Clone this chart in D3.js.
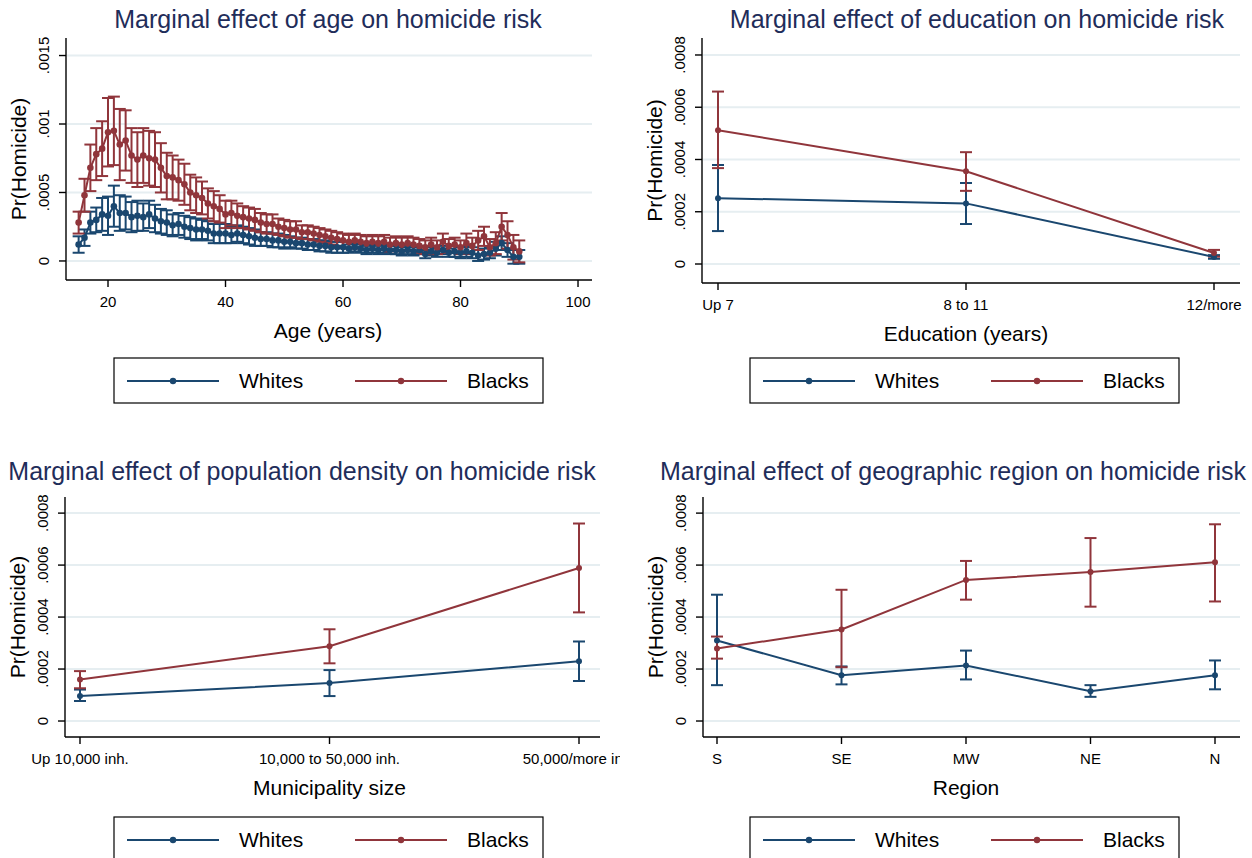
<!DOCTYPE html>
<html lang="en">
<head>
<meta charset="UTF-8">
<title>Marginal effects on homicide risk</title>
<script src="https://d3js.org/d3.v7.min.js"></script>
<style>
  body { margin: 0; background: #fff; }
  svg text { font-family: "Liberation Sans", Arial, sans-serif; fill: #000; }
  .title { fill: #1f2d5a !important; font-size: 25px; text-anchor: middle; }
  .axis-title { font-size: 21px; text-anchor: middle; }
  .tick-label { font-size: 15px; text-anchor: middle; }
  .legend-text { font-size: 21px; }
  .grid { stroke: #e6eef1; stroke-width: 2px; }
  .axis-line { stroke: #000; stroke-width: 1.4px; }
</style>
</head>
<body>
<svg id="chart" width="1252" height="858"></svg>
<script>
// ---- data ----------------------------------------------------------
const seriesNames = ["Whites", "Blacks"];
const colors = ["#1a476f", "#90353b"];

// age panel, ages 15..90
const ages = d3.range(15, 91);
const ageWhites = [
  .00012, .00017, .00028, .00030, .00034, .00033, .00040, .00035, .00035, .00032,
  .00033, .00032, .00034, .00031, .00029, .00028, .00026, .00027, .00025, .00024,
  .00023, .00023, .00022, .00020, .00020, .00020, .00019, .00020, .00019, .00018,
  .00017, .00016, .00016, .00015, .00015, .00014, .00014, .00013, .00013, .00012,
  .00012, .00011, .00011, .00010, .00010, .00010, .00009, .00010, .00009, .00008,
  .00009, .00008, .00009, .00008, .00008, .00007, .00008, .00007, .00008, .00005,
  .00007, .00006, .00008, .00006, .00007, .00006, .00007, .00006, .00004, .00005,
  .00006, .00009, .00013, .00008, .00003, .00003
];
const ageWhitesHalfCI = [
  .00006, .00006, .00008, .00009, .00012, .00014, .00015, .00013, .00012, .00011,
  .00011, .00010, .00010, .00010, .00009, .00009, .00008, .00008, .00008, .00008,
  .00008, .00007, .00007, .00007, .00007, .00007, .00006, .00006, .00006, .00006,
  .00006, .00005, .00005, .00005, .00005, .00005, .00004, .00004, .00004, .00004,
  .00004, .00004, .00004, .00004, .00004, .00004, .00003, .00003, .00003, .00003,
  .00003, .00003, .00003, .00003, .00003, .00003, .00003, .00003, .00003, .00003,
  .00003, .00003, .00003, .00003, .00004, .00004, .00004, .00004, .00004, .00004,
  .00004, .00005, .00005, .00005, .00005, .00005
];
const ageBlacks = [
  .00028, .00048, .00068, .00078, .00082, .00094, .00095, .00085, .00088, .00077,
  .00074, .00077, .00075, .00074, .00068, .00062, .00061, .00059, .00056, .00050,
  .00048, .00046, .00042, .00040, .00038, .00034, .00035, .00033, .00032, .00031,
  .00030, .00028, .00027, .00027, .00025, .00024, .00023, .00023, .00021, .00021,
  .00020, .00019, .00018, .00017, .00016, .00015, .00014, .00015, .00014, .00013,
  .00014, .00013, .00014, .00012, .00013, .00012, .00013, .00012, .00011, .00010,
  .00012, .00010, .00014, .00011, .00012, .00010, .00013, .00011, .00015, .00018,
  .00010, .00013, .00025, .00019, .00010, .00007
];
const ageBlacksHalfCI = [
  .00008, .00012, .00017, .00019, .00020, .00025, .00025, .00026, .00022, .00020,
  .00020, .00020, .00020, .00020, .00018, .00017, .00016, .00015, .00015, .00013,
  .00013, .00012, .00011, .00011, .00010, .00010, .00009, .00009, .00008, .00008,
  .00008, .00007, .00007, .00007, .00006, .00006, .00006, .00006, .00005, .00005,
  .00005, .00005, .00005, .00005, .00005, .00005, .00005, .00005, .00005, .00005,
  .00005, .00005, .00005, .00005, .00005, .00005, .00005, .00005, .00005, .00005,
  .00005, .00005, .00006, .00005, .00005, .00005, .00007, .00006, .00007, .00007,
  .00006, .00008, .00010, .00010, .00009, .00008
];

// education panel
const eduCats = ["Up 7", "8 to 11", "12/more"];
const eduWhites = [.000252, .000232, .000027];
const eduWhitesLo = [.000126, .000153, .000020];
const eduWhitesHi = [.000379, .000310, .000034];
const eduBlacks = [.000512, .000355, .000042];
const eduBlacksLo = [.000367, .000280, .000028];
const eduBlacksHi = [.000660, .000428, .000054];

// population density panel
const popCats = ["Up 10,000 inh.", "10,000 to 50,000 inh.", "50,000/more inh."];
const popWhites = [.000096, .000146, .000230];
const popWhitesLo = [.000077, .000096, .000154];
const popWhitesHi = [.000121, .000196, .000306];
const popBlacks = [.000160, .000288, .000589];
const popBlacksLo = [.000126, .000222, .000418];
const popBlacksHi = [.000192, .000353, .000760];

// region panel
const regCats = ["S", "SE", "MW", "NE", "N"];
const regWhites = [.000310, .000176, .000214, .000115, .000176];
const regWhitesLo = [.000138, .000141, .000160, .000093, .000122];
const regWhitesHi = [.000486, .000210, .000271, .000138, .000233];
const regBlacks = [.000279, .000352, .000543, .000573, .000611];
const regBlacksLo = [.000240, .000207, .000467, .000440, .000460];
const regBlacksHi = [.000325, .000505, .000616, .000704, .000757];

const ageTicks = [20, 40, 60, 80, 100];
const ageYTicks = [0, .0005, .001, .0015];
const probYTicks = [0, .0002, .0004, .0006, .0008];

// ---- helpers -------------------------------------------------------
const svg = d3.select("#chart");
const fmt = v => v === 0 ? "0" : String(+v.toPrecision(4)).replace(/^0/, "");

function zipRows(xs, mid, lo, hi) {
  return xs.map((x, i) => ({ x: x, y: mid[i], lo: lo[i], hi: hi[i] }));
}
function halfRows(xs, mid, half) {
  return xs.map((x, i) => ({ x: x, y: mid[i], lo: mid[i] - half[i], hi: mid[i] + half[i] }));
}

function drawPanel(p) {
  const g = svg.append("g");
  const clipId = "clip" + p.id;
  g.append("clipPath").attr("id", clipId)
    .append("rect").attr("x", p.clip[0]).attr("y", p.clip[1])
    .attr("width", p.clip[2]).attr("height", p.clip[3]);
  const inner = g.append("g").attr("clip-path", `url(#${clipId})`);

  const x = p.xScale;
  const y = d3.scaleLinear().domain(p.yDomain).range([p.bottom, p.top]);
  const xr = x.range();

  // gridlines
  inner.selectAll(".grid").data(p.yTicks).enter().append("line")
    .attr("class", "grid")
    .attr("x1", p.left + 1).attr("x2", p.right)
    .attr("y1", d => y(d)).attr("y2", d => y(d));

  // y axis
  inner.append("line").attr("class", "axis-line")
    .attr("x1", p.left).attr("x2", p.left).attr("y1", p.top).attr("y2", p.bottom);
  p.yTicks.forEach(t => {
    inner.append("line").attr("class", "axis-line")
      .attr("x1", p.left - 7).attr("x2", p.left).attr("y1", y(t)).attr("y2", y(t));
    inner.append("text").attr("class", "tick-label")
      .attr("transform", `translate(${p.left - 17},${y(t)}) rotate(-90)`)
      .text(fmt(t));
  });

  // x axis
  inner.append("line").attr("class", "axis-line")
    .attr("x1", p.left).attr("x2", p.right).attr("y1", p.bottom).attr("y2", p.bottom);
  p.xTicks.forEach(t => {
    inner.append("line").attr("class", "axis-line")
      .attr("x1", x(t)).attr("x2", x(t)).attr("y1", p.bottom).attr("y2", p.bottom + 7);
    inner.append("text").attr("class", "tick-label")
      .attr("x", x(t)).attr("y", p.bottom + 27)
      .style("font-size", p.xTickSize + "px")
      .text(t);
  });

  // titles
  inner.append("text").attr("class", "title")
    .attr("x", p.titleX).attr("y", p.titleY).text(p.title);
  inner.append("text").attr("class", "axis-title")
    .attr("x", p.xTitleX || (xr[0] + xr[xr.length - 1]) / 2).attr("y", p.bottom + 58).text(p.xTitle);
  inner.append("text").attr("class", "axis-title")
    .attr("transform", `translate(${p.left - 40},${(p.top + p.bottom) / 2}) rotate(-90)`)
    .text("Pr(Homicide)");

  // confidence intervals
  const cap = 6;
  p.series.forEach((rows, s) => {
    const ci = inner.append("g").attr("stroke", colors[s]).attr("stroke-width", 2).attr("fill", "none");
    rows.forEach(r => {
      ci.append("line").attr("x1", x(r.x)).attr("x2", x(r.x)).attr("y1", y(r.lo)).attr("y2", y(r.hi));
      ci.append("line").attr("x1", x(r.x) - cap).attr("x2", x(r.x) + cap).attr("y1", y(r.lo)).attr("y2", y(r.lo));
      ci.append("line").attr("x1", x(r.x) - cap).attr("x2", x(r.x) + cap).attr("y1", y(r.hi)).attr("y2", y(r.hi));
    });
  });

  // connected lines
  const line = d3.line().x(d => x(d.x)).y(d => y(d.y));
  p.series.forEach((rows, s) => {
    inner.append("path").datum(rows)
      .attr("fill", "none").attr("stroke", colors[s]).attr("stroke-width", 2)
      .attr("d", line);
    inner.selectAll(null).data(rows).enter().append("circle")
      .attr("cx", d => x(d.x)).attr("cy", d => y(d.y)).attr("r", p.markerR)
      .attr("fill", colors[s]);
  });

  // legend
  const lg = inner.append("g").attr("transform", `translate(${p.legend[0]},${p.legend[1]})`);
  lg.append("rect").attr("width", 429).attr("height", 45)
    .attr("fill", "#fff").attr("stroke", "#000").attr("stroke-width", 1.2);
  seriesNames.forEach((name, s) => {
    const ox = 13 + s * 228;
    lg.append("line").attr("x1", ox).attr("x2", ox + 92).attr("y1", 23).attr("y2", 23)
      .attr("stroke", colors[s]).attr("stroke-width", 2);
    lg.append("circle").attr("cx", ox + 46).attr("cy", 23).attr("r", 3.2).attr("fill", colors[s]);
    lg.append("text").attr("class", "legend-text").attr("x", ox + 112).attr("y", 30).text(name);
  });
}

// ---- panels --------------------------------------------------------
drawPanel({
  id: 1, clip: [0, 0, 626, 429],
  left: 66, right: 592, top: 38, bottom: 280,
  xScale: d3.scaleLinear().domain([12.85, 102.38]).range([66, 592]),
  xTicks: ageTicks, xTickSize: 15, xTitleX: 328,
  yDomain: [-0.000139, 0.001628], yTicks: ageYTicks,
  title: "Marginal effect of age on homicide risk", titleX: 328, titleY: 28,
  xTitle: "Age (years)", legend: [114, 358], markerR: 3.3,
  series: [halfRows(ages, ageWhites, ageWhitesHalfCI), halfRows(ages, ageBlacks, ageBlacksHalfCI)]
});

drawPanel({
  id: 2, clip: [626, 0, 626, 429],
  left: 702, right: 1240, top: 38, bottom: 283,
  xScale: d3.scalePoint().domain(eduCats).range([718, 1214]),
  xTicks: eduCats, xTickSize: 15,
  yDomain: [-0.0000727, 0.000865], yTicks: probYTicks,
  title: "Marginal effect of education on homicide risk", titleX: 977, titleY: 28,
  xTitle: "Education (years)", legend: [750, 358], markerR: 3,
  series: [zipRows(eduCats, eduWhites, eduWhitesLo, eduWhitesHi), zipRows(eduCats, eduBlacks, eduBlacksLo, eduBlacksHi)]
});

drawPanel({
  id: 3, clip: [0, 429, 620, 429],
  left: 65, right: 600, top: 497, bottom: 737,
  xScale: d3.scalePoint().domain(popCats).range([80, 579]),
  xTicks: popCats, xTickSize: 15,
  yDomain: [-0.0000615, 0.000862], yTicks: probYTicks,
  title: "Marginal effect of population density on homicide risk", titleX: 302, titleY: 480,
  xTitle: "Municipality size", legend: [114, 817], markerR: 3,
  series: [zipRows(popCats, popWhites, popWhitesLo, popWhitesHi), zipRows(popCats, popBlacks, popBlacksLo, popBlacksHi)]
});

drawPanel({
  id: 4, clip: [626, 429, 626, 429],
  left: 703, right: 1240, top: 497, bottom: 737,
  xScale: d3.scalePoint().domain(regCats).range([717, 1215]),
  xTicks: regCats, xTickSize: 15,
  yDomain: [-0.0000615, 0.000862], yTicks: probYTicks,
  title: "Marginal effect of geographic region on homicide risk", titleX: 953, titleY: 480,
  xTitle: "Region", legend: [750, 817], markerR: 3,
  series: [zipRows(regCats, regWhites, regWhitesLo, regWhitesHi), zipRows(regCats, regBlacks, regBlacksLo, regBlacksHi)]
});
</script>
</body>
</html>
